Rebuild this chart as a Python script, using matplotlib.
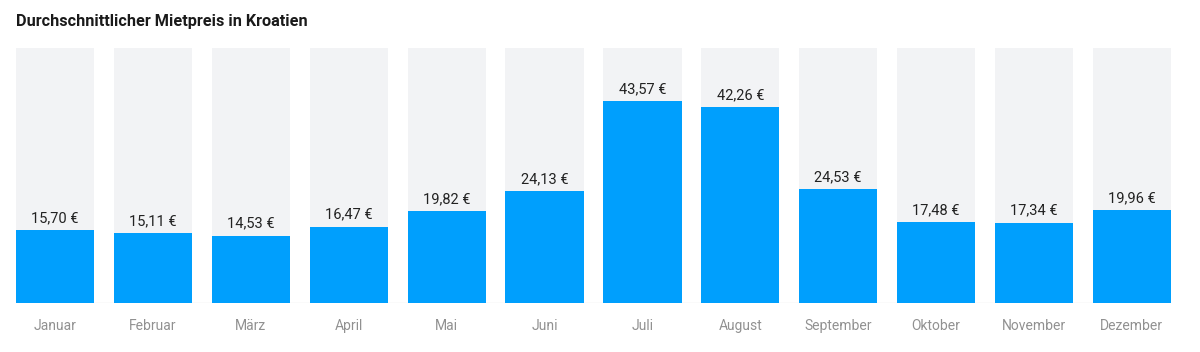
import matplotlib
matplotlib.use("Agg")
import matplotlib.pyplot as plt

months = ["Januar", "Februar", "März", "April", "Mai", "Juni", "Juli",
          "August", "September", "Oktober", "November", "Dezember"]
prices = [15.70, 15.11, 14.53, 16.47, 19.82, 24.13, 43.57, 42.26, 24.53, 17.48, 17.34, 19.96]
ymax = 55

plt.rcParams['font.family'] = ['Roboto', 'DejaVu Sans']

W, H = 1200, 352
fig = plt.figure(figsize=(W / 100, H / 100), dpi=100)
ax = fig.add_axes([16 / W, 49 / H, 1155 / W, 255 / H])

x = list(range(len(months)))
ax.bar(x, [ymax] * len(x), width=0.8, color="#F2F3F5", zorder=1)
ax.bar(x, prices, width=0.8, color="#009FFD", zorder=2)
for xi, v in zip(x, prices):
    ax.annotate(f"{v:.2f} €".replace(".", ","), (xi, v), xytext=(0, 3.5),
                textcoords="offset points", ha="center", va="bottom",
                fontsize=10.5, color="#222222", zorder=3)
ax.axhline(0, color="#E6E6E6", lw=1, zorder=0)

ax.set_xlim(-0.4, len(months) - 0.6)
ax.set_ylim(0, ymax)
ax.set_xticks(x)
ax.set_xticklabels(months, fontsize=10, color="#919191")
ax.tick_params(axis="x", length=0, pad=11.5)
ax.set_yticks([])
for s in ax.spines.values():
    s.set_visible(False)

fig.text(16 / W, 1 - 21.5 / H, "Durchschnittlicher Mietpreis in Kroatien",
         fontsize=11.7, fontweight="bold", color="#1a1a1a", ha="left", va="center")

fig.savefig("out.png", dpi=100, facecolor="white")
